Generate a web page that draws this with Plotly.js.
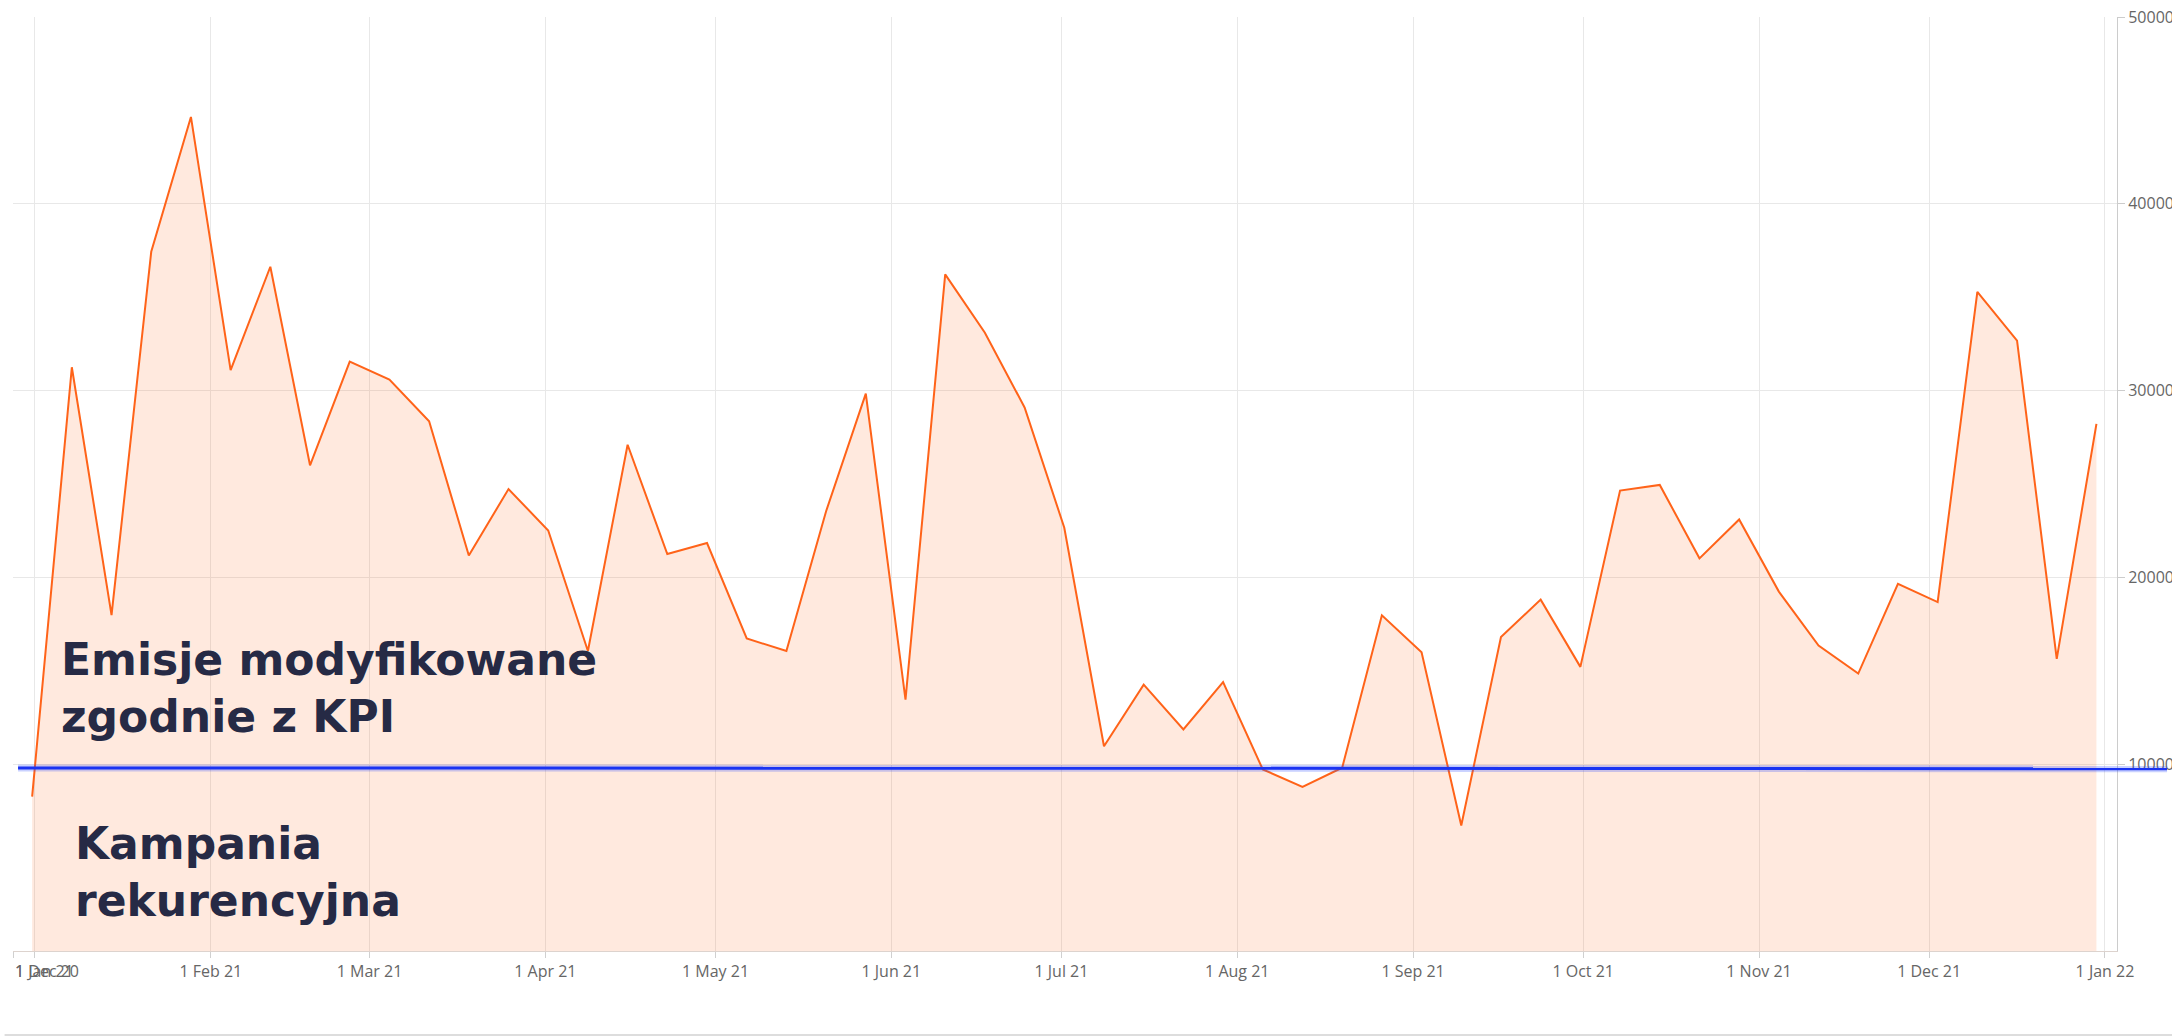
<!DOCTYPE html>
<html>
<head>
<meta charset="utf-8">
<script src="https://cdn.plot.ly/plotly-3.0.1.min.js"></script>
<style>
html,body{margin:0;padding:0;background:#fff;}
#chart{width:2172px;height:1036px;}
</style>
</head>
<body>
<div id="chart"></div>
<script>
// Weekly dates (points sit around midday)
const weekDates = [
  '2020-12-31 12:00','2021-01-07 12:00','2021-01-14 12:00','2021-01-21 12:00','2021-01-28 12:00',
  '2021-02-04 12:00','2021-02-11 12:00','2021-02-18 12:00','2021-02-25 12:00',
  '2021-03-04 12:00','2021-03-11 12:00','2021-03-18 12:00','2021-03-25 12:00',
  '2021-04-01 12:00','2021-04-08 12:00','2021-04-15 12:00','2021-04-22 12:00','2021-04-29 12:00',
  '2021-05-06 12:00','2021-05-13 12:00','2021-05-20 12:00','2021-05-27 12:00',
  '2021-06-03 12:00','2021-06-10 12:00','2021-06-17 12:00','2021-06-24 12:00',
  '2021-07-01 12:00','2021-07-08 12:00','2021-07-15 12:00','2021-07-22 12:00','2021-07-29 12:00',
  '2021-08-05 12:00','2021-08-12 12:00','2021-08-19 12:00','2021-08-26 12:00',
  '2021-09-02 12:00','2021-09-09 12:00','2021-09-16 12:00','2021-09-23 12:00','2021-09-30 12:00',
  '2021-10-07 12:00','2021-10-14 12:00','2021-10-21 12:00','2021-10-28 12:00',
  '2021-11-04 12:00','2021-11-11 12:00','2021-11-18 12:00','2021-11-25 12:00',
  '2021-12-02 12:00','2021-12-09 12:00','2021-12-16 12:00','2021-12-23 12:00','2021-12-30 12:00'
];
const emissions = [
  8260, 31250, 17980, 37430, 44650,
  31100, 36630, 26000, 31550,
  30590, 28360, 21170, 24730,
  22510, 16060, 27100, 21250, 21840,
  16730, 16060, 23540, 29840,
  13460, 36220, 33100, 29100,
  22660, 10960, 14260, 11860, 14390,
  9720, 8790, 9810, 17970,
  15990, 6720, 16810, 18810, 15210,
  24650, 24950, 21020, 23100,
  19240, 16350, 14850, 19650,
  18680, 35290, 32670, 15640, 28220
];
// KPI threshold line (start / end value)
const kpiLine = [9800, 9760];

// Axis ticks
const xRange = ['2020-12-28 03:00', '2022-01-03 03:00'];
const xTickVals = ['2020-12-28 03:00','2021-01-01','2021-02-01','2021-03-01','2021-04-01','2021-05-01','2021-06-01',
  '2021-07-01','2021-08-01','2021-09-01','2021-10-01','2021-11-01','2021-12-01','2022-01-01'];
const xTickText = ['','','1 Feb 21','1 Mar 21','1 Apr 21','1 May 21','1 Jun 21',
  '1 Jul 21','1 Aug 21','1 Sep 21','1 Oct 21','1 Nov 21','1 Dec 21','1 Jan 22'];
const leftEdgeLabels = ['1 Dec 20', '1 Jan 21'];
const yTickVals = [10000, 20000, 30000, 40000, 50000];
const yTickText = ['10000', '20000', '30000', '40000', '50000'];

const labelTop = 'Emisje modyfikowane<br>zgodnie z KPI';
const labelBottom = 'Kampania<br>rekurencyjna';

const tickFont = {family: '"Open Sans", sans-serif', size: 16, color: '#666666'};
const bigFont = {family: '"DejaVu Sans", sans-serif', size: 44, color: '#262a45', weight: 700};

const traces = [{
  type: 'scatter',
  mode: 'lines',
  x: weekDates,
  y: emissions,
  fill: 'tozeroy',
  fillcolor: 'rgba(255,107,33,0.15)',
  line: {color: '#ff6319', width: 2},
  hoverinfo: 'skip',
  showlegend: false
}];

const layout = {
  width: 2172,
  height: 1036,
  margin: {l: 13, r: 55, t: 17, b: 85},
  paper_bgcolor: '#ffffff',
  plot_bgcolor: '#ffffff',
  showlegend: false,
  xaxis: {
    type: 'date',
    range: xRange,
    tickmode: 'array',
    tickvals: xTickVals,
    ticktext: xTickText,
    showgrid: true,
    gridcolor: '#e8e8e8',
    gridwidth: 1,
    showline: true,
    linecolor: '#ddd3ce',
    linewidth: 1,
    ticks: 'outside',
    ticklen: 6,
    tickcolor: '#d0d0d0',
    tickfont: tickFont,
    zeroline: false,
    fixedrange: true
  },
  yaxis: {
    side: 'right',
    range: [0, 50000],
    tickmode: 'array',
    tickvals: yTickVals,
    ticktext: yTickText,
    showgrid: true,
    gridcolor: '#e8e8e8',
    gridwidth: 1,
    showline: true,
    linecolor: '#cccccc',
    linewidth: 1,
    ticks: 'outside',
    ticklen: 7,
    tickcolor: '#cccccc',
    tickfont: tickFont,
    zeroline: false,
    fixedrange: true
  },
  shapes: [
    {type: 'line', xref: 'paper', yref: 'y', x0: 0.0024, x1: 1.0238, y0: kpiLine[0], y1: kpiLine[1],
     line: {color: 'rgba(40,70,255,0.25)', width: 7}, layer: 'above'},
    {type: 'line', xref: 'paper', yref: 'y', x0: 0.0024, x1: 1.0238, y0: kpiLine[0], y1: kpiLine[1],
     line: {color: '#1a33f2', width: 3}, layer: 'above'},
    {type: 'line', xref: 'paper', yref: 'paper', x0: -0.004, x1: 1.03, y0: -0.0899, y1: -0.0899,
     line: {color: '#dddddd', width: 2}, layer: 'above'}
  ],
  annotations: [
    {xref: 'paper', yref: 'paper', x: 0, y: -0.0075, xanchor: 'left', yanchor: 'top', showarrow: false,
     text: leftEdgeLabels[0], font: tickFont},
    {xref: 'paper', yref: 'paper', x: 0, y: -0.0075, xanchor: 'left', yanchor: 'top', showarrow: false,
     text: leftEdgeLabels[1], font: tickFont},
    {xref: 'paper', yref: 'y', x: 0.0218, y: 14060, xanchor: 'left', yanchor: 'middle', align: 'left',
     showarrow: false, text: labelTop, font: bigFont},
    {xref: 'paper', yref: 'y', x: 0.0285, y: 4220, xanchor: 'left', yanchor: 'middle', align: 'left',
     showarrow: false, text: labelBottom, font: bigFont}
  ]
};

Plotly.newPlot('chart', traces, layout, {displayModeBar: false, staticPlot: true});
</script>
</body>
</html>
